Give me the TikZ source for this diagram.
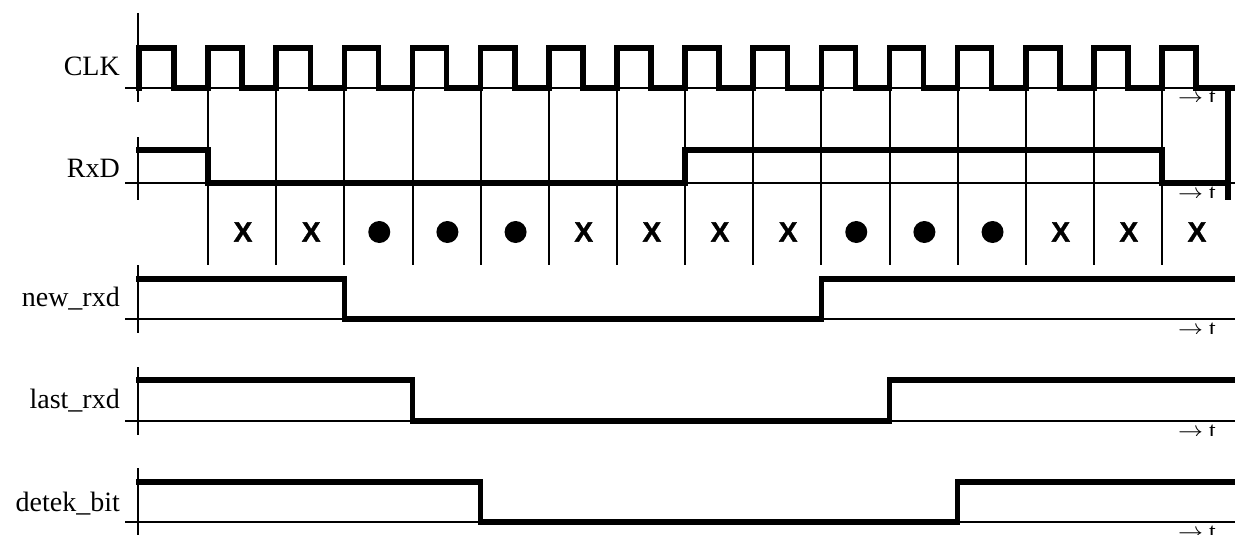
\documentclass[tikz,border=0pt]{standalone}
\usepackage{fontspec}
\setmainfont{Liberation Serif}
\newfontfamily\markbold[FakeBold=1.2]{Liberation Sans Bold}
\begin{document}
\begin{tikzpicture}[x=1pt,y=-1pt,
  sig/.style={line width=5.5pt,line join=miter,line cap=rect},
  axisline/.style={line width=2.6pt},
  gridline/.style={line width=2pt},
  lbl/.style={anchor=base east,inner sep=0pt,font=\fontsize{28}{30}\selectfont},
  tlbl/.style={anchor=base,inner sep=0pt,font=\fontsize{24}{26}\selectfont},
  xmark/.style={inner sep=0pt,font=\markbold\fontsize{28}{30}\selectfont},
  dotmark/.style={circle,fill=black,minimum size=22pt,inner sep=0pt}]
\useasboundingbox (0,0) rectangle (1235,535);
\def\P{68.14}
% grid lines at rising edges
\foreach \k in {0,...,14}{
  \draw[gridline] ({208.1+\k*\P},88) -- ({208.1+\k*\P},265);
}
% axes: baseline y, top, bottom
\foreach \b/\t/\e/\n in {88/13/102/clk,183/137/200/rxd,319/265/333/new,421/367/435/last,522/468/535/detek}{
  \draw[axisline] (125,\b) -- (1235,\b);
  \draw[axisline] (138,\t) -- (138,\e);
  \begin{scope}
    \clip (1150,\b+2) rectangle (1235,\b+14);
    \node[tlbl] (t\n) at (1197,\b+17) {$\rightarrow$ t};
  \end{scope}
}
% labels
\node[lbl] (lclk) at (120,76) {CLK};
\node[lbl] (lrxd) at (120,177) {RxD};
\node[lbl] (lnew) at (120,306) {new\_rxd};
\node[lbl] (llast) at (120,408) {last\_rxd};
\node[lbl] (ldetek) at (120,511) {detek\_bit};
% CLK
\draw[sig] (139,88) -- (139,48) -- (174,48) -- (174,88)
  \foreach \k in {0,...,14}{
    -- ({208.1+\k*\P},88) -- ({208.1+\k*\P},48) -- ({242.2+\k*\P},48) -- ({242.2+\k*\P},88)
  } -- (1233,88);
% RxD
\draw[sig] (139,150) -- (208.1,150) -- (208.1,183) -- (685.1,183) -- (685.1,150)
  -- (1162.1,150) -- (1162.1,183) -- (1228,183);
\draw[sig] (1228,88) -- (1228,197);
% marks
\foreach \i in {0,1,5,6,7,8,12,13,14}{
  \node[xmark] (m\i) at ({243+\i*\P},232) {X};
}
\foreach \i in {2,3,4,9,10,11}{
  \node[dotmark] (m\i) at ({243+\i*\P},232) {};
}
% new_rxd
\draw[sig] (139,279) -- (344.4,279) -- (344.4,319) -- (821.4,319) -- (821.4,279) -- (1233,279);
% last_rxd
\draw[sig] (139,380) -- (412.5,380) -- (412.5,421) -- (889.5,421) -- (889.5,380) -- (1233,380);
% detek_bit
\draw[sig] (139,482) -- (480.7,482) -- (480.7,522) -- (957.6,522) -- (957.6,482) -- (1233,482);
\end{tikzpicture}
\end{document}
